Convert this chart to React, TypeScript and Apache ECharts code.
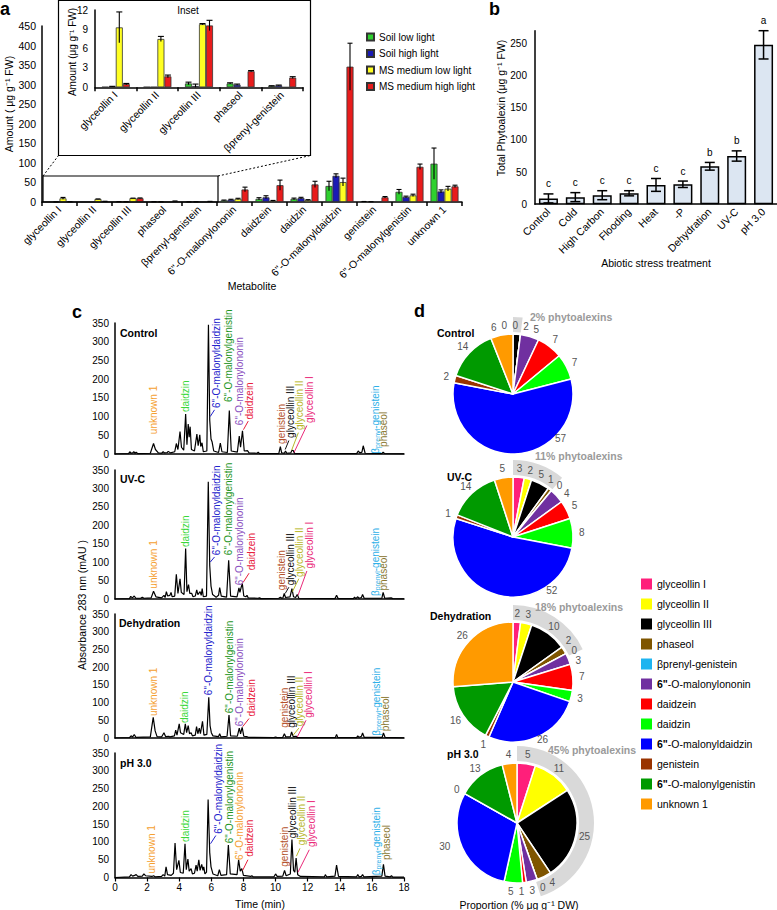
import React, { useEffect, useRef } from 'react';
import * as echarts from 'echarts';

const FONT = '"Liberation Sans", Arial, Helvetica, sans-serif';

// ---------- Panel a ----------
const metabolites = ['glyceollin I', 'glyceollin II', 'glyceollin III', 'phaseol', 'βprenyl-genistein', '6"-O-malonylononin', 'daidzein', 'daidzin', '6"-O-malonyldaidzin', 'genistein', '6"-O-malonylgenistin', 'unknown 1'];
const seriesNames = ['Soil low light', 'Soil high light', 'MS medium low light', 'MS medium high light'];
const soilLow = [0.05, 0.05, 0.6, 0.6, 0.2, 4, 8, 8, 41, 1, 26, 98];
const soilHigh = [0.1, 0.05, 0.2, 0.4, 0.3, 6, 12, 10, 67, 0.5, 13, 27];
const msLow = [9.3, 7.5, 9.8, 0, 0, 8, 3, 5, 51, 0, 17, 34];
const msHigh = [0.5, 1.7, 9.6, 2.5, 1.5, 32, 43, 45, 346, 12, 90, 40];
const soilLowErr = [0, 0, 0.2, 0.1, 0.05, 1, 3, 2, 12, 0.3, 6, 40];
const soilHighErr = [0.05, 0, 0.3, 0.1, 0.05, 1, 4, 2, 5, 0.2, 2, 4];
const msLowErr = [2.4, 0.4, 0.1, 0, 0, 1.5, 1, 1, 10, 0, 3, 6];
const msHighErr = [0.1, 0.2, 0.8, 0.1, 0.15, 6, 13, 8, 60, 2, 7, 3];
const insetCount = 5;

// ---------- Panel b ----------
const treatments = ['Control', 'Cold', 'High Carbon', 'Flooding', 'Heat', '-P', 'Dehydration', 'UV-C', 'pH 3.0'];
const totalPhyto = [9, 11, 14, 17, 30, 31, 59, 75, 248];
const totalErr = [7, 7, 7, 4, 10, 5, 6, 8, 22];
const sigLetters = ['c', 'c', 'c', 'c', 'c', 'c', 'b', 'b', 'a'];

// ---------- Panel c (time min, absorbance mAU) ----------
const chromTitles = ['Control', 'UV-C', 'Dehydration', 'pH 3.0'];
const traceControl = [[0,0],[0.85,1],[0.92,6],[1.0,2],[1.1,3],[1.17,6],[1.25,2],[1.32,5],[1.42,1],[2.2,2],[2.4,28],[2.52,12],[2.7,3],[2.9,2],[3.0,6],[3.08,3],[3.25,4],[3.32,7],[3.45,3],[3.72,6],[3.82,28],[3.92,12],[4.05,60],[4.14,18],[4.28,10],[4.4,107],[4.48,25],[4.56,80],[4.62,45],[4.68,73],[4.76,12],[4.95,8],[5.1,53],[5.18,22],[5.28,51],[5.34,20],[5.42,30],[5.5,6],[5.72,8],[5.82,345],[5.9,90],[5.98,40],[6.05,32],[6.15,8],[6.45,4],[6.56,29],[6.66,6],[7.0,4],[7.12,116],[7.24,8],[7.62,5],[7.74,48],[7.82,18],[7.94,62],[8.05,8],[8.25,9],[8.35,3],[8.85,2],[8.92,5],[9.0,1],[10.2,1],[10.3,20],[10.38,3],[10.55,2],[10.62,8],[10.7,2],[10.95,3],[11.02,10],[11.1,9],[11.2,1],[15.05,1],[15.15,8],[15.25,3],[15.38,5],[15.46,22],[15.58,2],[16.62,1],[16.7,5],[16.8,1],[18,0.5]];
const traceUVC = [[0,0],[0.9,1],[0.98,7],[1.08,3],[1.2,8],[1.3,2],[1.6,2],[1.7,5],[1.8,2],[2.25,3],[2.4,21],[2.55,6],[2.9,3],[3.05,10],[3.12,4],[3.2,20],[3.28,8],[3.42,10],[3.49,18],[3.56,6],[3.72,8],[3.82,67],[3.92,15],[4.05,55],[4.13,18],[4.3,12],[4.4,137],[4.48,20],[4.58,39],[4.66,15],[4.78,15],[4.86,6],[5.0,8],[5.09,25],[5.16,12],[5.3,20],[5.37,10],[5.43,28],[5.5,6],[5.7,8],[5.81,318],[5.9,90],[5.98,35],[6.08,12],[6.3,5],[6.45,10],[6.52,31],[6.62,8],[6.95,5],[7.08,105],[7.2,8],[7.6,6],[7.72,30],[7.78,18],[7.85,30],[7.93,42],[8.02,8],[8.15,6],[8.22,10],[8.3,3],[8.9,2],[9.0,3],[9.1,1],[10.2,2],[10.3,5],[10.38,2],[10.46,3],[10.54,15],[10.62,4],[10.9,6],[11.02,28],[11.12,6],[11.25,4],[11.35,12],[11.45,2],[13.7,1],[13.8,10],[13.9,1],[14.85,1],[14.92,5],[15.0,1],[15.12,6],[15.2,2],[15.35,4],[15.42,12],[15.52,2],[16.62,2],[16.7,18],[16.8,2],[17.2,3],[17.3,1],[18,0.5]];
const traceDehyd = [[0,0],[0.9,1],[1.0,6],[1.1,3],[1.2,10],[1.3,2],[2.2,3],[2.38,58],[2.5,20],[2.62,4],[2.9,3],[3.05,15],[3.15,4],[3.35,5],[3.42,3],[3.7,6],[3.78,22],[3.86,8],[4.0,40],[4.08,15],[4.28,10],[4.38,40],[4.46,15],[4.56,35],[4.64,12],[4.74,15],[4.82,6],[5.0,8],[5.08,32],[5.16,12],[5.25,28],[5.32,12],[5.45,47],[5.54,8],[5.72,10],[5.84,115],[5.92,35],[6.0,15],[6.1,6],[6.45,4],[6.52,12],[6.6,3],[6.98,5],[7.1,65],[7.2,6],[7.62,5],[7.74,28],[7.82,12],[7.92,30],[8.02,5],[8.2,4],[8.3,2],[9.9,1],[10.0,3],[10.1,1],[10.45,2],[10.55,12],[10.64,3],[10.92,4],[11.0,17],[11.1,4],[11.28,5],[11.36,1],[13.72,1],[13.8,10],[13.88,1],[15.05,1],[15.12,6],[15.2,2],[15.35,5],[15.42,14],[15.52,2],[16.64,2],[16.72,14],[16.82,2],[18,0.5]];
const tracePH3 = [[0,0],[0.9,2],[1.0,8],[1.1,4],[1.22,6],[1.32,8],[1.42,3],[1.7,4],[1.8,10],[1.9,5],[2.3,3],[2.4,5],[2.5,2],[2.9,3],[3.0,8],[3.1,4],[3.18,30],[3.27,8],[3.5,6],[3.64,12],[3.74,97],[3.84,22],[3.98,48],[4.07,14],[4.25,12],[4.36,95],[4.44,22],[4.54,52],[4.62,18],[4.74,25],[4.82,10],[4.95,12],[5.05,35],[5.12,18],[5.22,50],[5.3,20],[5.4,37],[5.48,20],[5.53,30],[5.6,10],[5.7,15],[5.8,219],[5.9,70],[5.98,30],[6.1,10],[6.4,5],[6.5,22],[6.6,6],[6.95,8],[7.06,91],[7.18,10],[7.6,8],[7.7,50],[7.8,18],[7.9,25],[8.0,6],[8.45,3],[8.52,5],[8.6,2],[9.9,2],[10.0,10],[10.1,3],[10.45,4],[10.56,20],[10.66,5],[10.92,10],[11.02,107],[11.12,20],[11.2,15],[11.28,55],[11.38,8],[11.55,3],[13.05,2],[13.1,8],[13.18,2],[13.7,4],[13.8,35],[13.92,3],[15.05,2],[15.12,8],[15.2,2],[15.35,3],[15.42,8],[15.5,2],[16.62,4],[16.72,37],[16.82,4],[17.15,2],[17.22,5],[17.3,1],[18,1]];
const traces = [traceControl, traceUVC, traceDehyd, tracePH3];

// ---------- Panel d (% of total) ----------
const pieTitles = ['Control', 'UV-C', 'Dehydration', 'pH 3.0'];
const pctControl = [0, 0, 2, 0, 0, 5, 7, 7, 57, 2, 14, 6];
const pctUVC = [3, 2, 5, 1, 0, 4, 5, 8, 52, 1, 14, 5];
const pctDehyd = [2, 3, 10, 2, 0, 3, 7, 3, 26, 1, 16, 26];
const pctPH3 = [5, 11, 25, 4, 0, 3, 1, 5, 30, 0, 13, 4];
const pieValues = [pctControl, pctUVC, pctDehyd, pctPH3];
const phytoPct = [2, 11, 18, 45];
// slices whose value is not printed in the reference
const pieUnlabelled = [[3, 4], [], [], []];

// ---------- styles / layout ----------
const barColors = ['#2fd02f', '#1a1ab4', '#ffff22', '#e81c1c'];
const pieColors = ['#ff1f7a', '#ffff00', '#000000', '#7f5500', '#1eb4f0', '#7030a0', '#ff0000', '#00ff00', '#0000ff', '#993300', '#009a00', '#ff9a00'];
const peakText: Record<string, string> = { unk: 'unknown 1', dzn: 'daidzin', mdz: '6"-O-malonyldaidzin', mgs: '6"-O-malonylgenistin', mon: '6"-O-malonylononin', dze: 'daidzein', gen: 'genistein', g3: 'glyceollin III', g2: 'glyceollin II', g1: 'glyceollin I', pre: 'PRENYL', pha: 'phaseol' };
const peakColor: Record<string, string> = { unk: '#f5a030', dzn: '#3ad83a', mdz: '#2222cc', mgs: '#1e961e', mon: '#8a50c0', dze: '#e8203c', gen: '#b4502a', g3: '#111111', g2: '#b8b82a', g1: '#ea2a7a', pre: '#2eb0e8', pha: '#8a7830' };
type Ann = { k: string; t: number; v: number; lead?: number[]; c?: string };
const chromAnn: Ann[][] = [
  [
    { k: 'unk', t: 2.37, v: 53 }, { k: 'dzn', t: 4.42, v: 112 },
    { k: 'mdz', t: 6.35, v: 123, lead: [5.93, 100, 6.2, 118] }, { k: 'mgs', t: 7.1, v: 139 },
    { k: 'mon', t: 7.78, v: 77 }, { k: 'dze', t: 8.4, v: 92, lead: [8.0, 65, 8.3, 88] },
    { k: 'gen', t: 10.34, v: 27 }, { k: 'g3', t: 10.9, v: 43, lead: [10.6, 12, 10.83, 36] },
    { k: 'g2', t: 11.52, v: 64, lead: [11.0, 10, 11.42, 57] }, { k: 'g1', t: 12.1, v: 83, lead: [11.15, 4, 11.95, 76] },
    { k: 'pre', t: 16.2, v: 1 }, { k: 'pha', t: 16.75, v: 19 },
  ],
  [
    { k: 'unk', t: 2.37, v: 28 }, { k: 'dzn', t: 4.42, v: 141 },
    { k: 'mdz', t: 6.35, v: 119, lead: [5.93, 100, 6.2, 114] }, { k: 'mgs', t: 7.1, v: 119 },
    { k: 'mon', t: 7.78, v: 37 }, { k: 'dze', t: 8.5, v: 78, lead: [7.98, 45, 8.35, 70] },
    { k: 'gen', t: 10.4, v: 24 }, { k: 'g3', t: 10.9, v: 37, lead: [10.6, 15, 10.83, 32] },
    { k: 'g2', t: 11.52, v: 60, lead: [11.05, 20, 11.45, 55] }, { k: 'g1', t: 12.1, v: 83, lead: [11.4, 10, 11.95, 76] },
    { k: 'pre', t: 16.2, v: 8 }, { k: 'pha', t: 16.75, v: 23 },
  ],
  [
    { k: 'unk', t: 2.37, v: 62 }, { k: 'dzn', t: 4.32, v: 42 },
    { k: 'mdz', t: 5.81, v: 121 }, { k: 'mgs', t: 7.16, v: 70 },
    { k: 'mon', t: 7.74, v: 33 }, { k: 'dze', t: 8.5, v: 61, lead: [7.95, 32, 8.35, 55] },
    { k: 'gen', t: 10.58, v: 29 }, { k: 'g3', t: 11.0, v: 29 },
    { k: 'g2', t: 11.52, v: 33, lead: [11.1, 8, 11.45, 28] }, { k: 'g1', t: 12.04, v: 57, lead: [11.35, 3, 11.9, 50] },
    { k: 'pre', t: 16.3, v: 6 }, { k: 'pha', t: 16.85, v: 19 },
  ],
  [
    { k: 'unk', t: 2.28, v: 11 }, { k: 'dzn', t: 4.36, v: 100 },
    { k: 'mdz', t: 6.43, v: 123, lead: [5.95, 95, 6.28, 118] }, { k: 'mgs', t: 7.16, v: 96 },
    { k: 'mon', t: 7.78, v: 49, c: '#f5a030' }, { k: 'dze', t: 8.4, v: 58, lead: [7.95, 20, 8.28, 50] },
    { k: 'gen', t: 10.58, v: 30 }, { k: 'g3', t: 11.06, v: 110 },
    { k: 'g2', t: 11.62, v: 91, lead: [11.3, 60, 11.52, 82] }, { k: 'g1', t: 12.25, v: 86, lead: [11.4, 15, 12.1, 78] },
    { k: 'pre', t: 16.3, v: 6 }, { k: 'pha', t: 16.9, v: 49 },
  ],
];
const chromGrids = [
  { top: 323, height: 131 }, { top: 470, height: 129 }, { top: 614, height: 124 }, { top: 753, height: 124.5 },
];
const chromTitlePos = [[120, 333], [120, 479], [119, 623], [120, 763]];
const pieCenters = [[513, 394], [513, 537], [513, 682], [517, 823]];
const pieTitlePos = [[437, 333], [447, 477], [430, 616], [447, 754]];
const phytoLabelPos = [[530, 317], [535, 456], [535, 607], [548, 750]];
// label angle (deg, clockwise from top) / radius used in the reference for the large 6"-O-malonyldaidzin slices
const pieLabelOverride: Record<number, number[]>[] = [{ 8: [133, 65] }, { 8: [144, 66] }, { 8: [153, 65] }, { 8: [252, 76] }];
const PIE_R = 60;
const LABEL_R = 69;

const BAR_W = 7;
const axisBlack = { lineStyle: { color: '#000', width: 1.5 } };

function errRender(barW: number, cap: number) {
  return (params: any, api: any) => {
    const c = api.value(0), v = api.value(1), e = api.value(2), s = api.value(3);
    const top = api.coord([c, v + e]);
    const bot = api.coord([c, Math.max(0, v - e)]);
    const x = top[0] + (s - 1.5) * barW;
    const st = { stroke: '#000', lineWidth: 1.1 };
    return {
      type: 'group',
      children: [
        { type: 'line', shape: { x1: x, y1: top[1], x2: x, y2: bot[1] }, style: st },
        { type: 'line', shape: { x1: x - cap, y1: top[1], x2: x + cap, y2: top[1] }, style: st },
      ],
    };
  };
}

// mid-angle (degrees clockwise from 12 o'clock) of every labelled slice, nudged apart when crowded
function pieLabelAngles(vals: number[], hidden: number[], override: Record<number, number[]>) {
  const total = vals.reduce((a, b) => a + b, 0);
  let cum = 0;
  const items: { i: number; a: number }[] = [];
  vals.forEach((v, i) => {
    const mid = ((cum + v / 2) / total) * 360;
    cum += v;
    if (!hidden.includes(i) && !override[i]) items.push({ i, a: mid });
  });
  const minSep = 9;
  for (let it = 0; it < 400; it++) {
    let moved = false;
    for (let j = 0; j < items.length; j++) {
      const A = items[j];
      const B = items[(j + 1) % items.length];
      let d = B.a - A.a;
      if (j === items.length - 1) d += 360;
      if (d < minSep - 1e-6) {
        const push = (minSep - d) / 2;
        A.a -= push;
        B.a += push;
        moved = true;
      }
    }
    if (!moved) break;
  }
  const map: Record<number, number[]> = {};
  items.forEach((o) => (map[o.i] = [o.a, LABEL_R]));
  Object.keys(override).forEach((k) => (map[Number(k)] = override[Number(k)]));
  return map;
}

function buildOption() {
  const groups = [soilLow, soilHigh, msLow, msHigh];
  const errs = [soilLowErr, soilHighErr, msLowErr, msHighErr];
  const errMain: number[][] = [];
  const errInset: number[][] = [];
  groups.forEach((g, s) => g.forEach((v, i) => {
    if (errs[s][i] > 0) {
      errMain.push([i, v, errs[s][i], s]);
      if (i < insetCount) errInset.push([i, v, errs[s][i], s]);
    }
  }));

  const series: any[] = [];
  groups.forEach((g, s) => {
    const base = {
      type: 'bar', name: seriesNames[s], barWidth: BAR_W, barGap: '0%', silent: true,
      itemStyle: { color: barColors[s], borderColor: '#333', borderWidth: 0.8 },
    };
    series.push({ ...base, xAxisIndex: 0, yAxisIndex: 0, data: g });
    series.push({ ...base, xAxisIndex: 1, yAxisIndex: 1, data: g.slice(0, insetCount) });
  });
  series.push({ type: 'custom', name: 'errMain', xAxisIndex: 0, yAxisIndex: 0, data: errMain, renderItem: errRender(BAR_W, 2.5), silent: true, z: 5 });
  series.push({ type: 'custom', name: 'errInset', xAxisIndex: 1, yAxisIndex: 1, data: errInset, renderItem: errRender(BAR_W, 3), silent: true, z: 5 });

  // panel b
  series.push({
    type: 'bar', name: 'Total Phytoalexin', xAxisIndex: 2, yAxisIndex: 2, data: totalPhyto, barWidth: 19, silent: true,
    itemStyle: { color: '#dce6f2', borderColor: '#000', borderWidth: 1.5 },
  });
  series.push({
    type: 'custom', name: 'errB', xAxisIndex: 2, yAxisIndex: 2, silent: true, z: 5,
    data: totalPhyto.map((v, i) => [i, v, totalErr[i]]),
    renderItem: (params: any, api: any) => {
      const i = api.value(0), v = api.value(1), e = api.value(2);
      const t = api.coord([i, v + e]);
      const b = api.coord([i, Math.max(0, v - e)]);
      const x = t[0];
      const st = { stroke: '#000', lineWidth: 1.5 };
      return {
        type: 'group',
        children: [
          { type: 'line', shape: { x1: x, y1: t[1], x2: x, y2: b[1] }, style: st },
          { type: 'line', shape: { x1: x - 5, y1: t[1], x2: x + 5, y2: t[1] }, style: st },
          { type: 'line', shape: { x1: x - 5, y1: b[1], x2: x + 5, y2: b[1] }, style: st },
          { type: 'text', x, y: t[1] - 5, style: { text: sigLetters[params.dataIndex], textAlign: 'center', textVerticalAlign: 'bottom', fill: '#000', font: `10px ${FONT}` } },
        ],
      };
    },
  });

  // panel c
  traces.forEach((tr, p) => {
    series.push({
      type: 'line', name: 'trace ' + chromTitles[p], xAxisIndex: 3 + p, yAxisIndex: 3 + p, data: tr,
      showSymbol: false, symbol: 'none', silent: true, lineStyle: { color: '#000', width: 1.2 },
    });
  });

  // panel d
  pieValues.forEach((vals, p) => {
    const angles = pieLabelAngles(vals, pieUnlabelled[p], pieLabelOverride[p]);
    const [cx, cy] = pieCenters[p];
    series.push({
      type: 'pie', name: 'ring ' + pieTitles[p], center: pieCenters[p], radius: [62, 77], startAngle: 90, silent: true, z: 1,
      data: [
        { name: 'phyto', value: phytoPct[p], itemStyle: { color: '#d9d9d9' } },
        { name: 'rest', value: 100 - phytoPct[p], itemStyle: { color: 'rgba(0,0,0,0)' } },
      ],
      label: { show: false }, labelLine: { show: false }, emphasis: { disabled: true },
    });
    series.push({
      type: 'pie', name: 'pie ' + pieTitles[p], center: pieCenters[p], radius: PIE_R, startAngle: 90, silent: true, z: 3,
      data: metabolites.map((n, i) => ({
        name: n, value: vals[i], itemStyle: { color: pieColors[i] },
        label: { show: !pieUnlabelled[p].includes(i) },
      })),
      itemStyle: { borderColor: '#fff', borderWidth: 1.5 },
      label: { show: true, position: 'outside', formatter: '{c}', fontSize: 10, color: '#555', fontFamily: FONT },
      labelLine: { show: false, length: 4, length2: 2 },
      avoidLabelOverlap: false, emphasis: { disabled: true },
      labelLayout: (prm: any) => {
        const a = angles[prm.dataIndex];
        if (a === undefined) return {};
        const rad = (a[0] * Math.PI) / 180;
        return { x: cx + a[1] * Math.sin(rad), y: cy - a[1] * Math.cos(rad), align: 'center', verticalAlign: 'middle' };
      },
    });
  });

  const chromX = chromGrids.map((_, p) => ({
    type: 'value', gridIndex: 3 + p, min: 0, max: 18, interval: 2,
    axisLine: { show: true, ...axisBlack },
    axisTick: { show: p === 3, length: 4, lineStyle: { color: '#000', width: 1.2 } },
    axisLabel: { show: p === 3, fontSize: 10, color: '#000', margin: 5 },
    splitLine: { show: false },
  }));
  const chromY = chromGrids.map((_, p) => ({
    type: 'value', gridIndex: 3 + p, min: 0, max: 350, interval: 50,
    axisLine: { show: true, ...axisBlack }, axisTick: { show: false },
    axisLabel: { fontSize: 10, color: '#000', margin: 6 }, splitLine: { show: false },
  }));

  return {
    animation: false,
    backgroundColor: '#fff',
    textStyle: { fontFamily: FONT },
    grid: [
      { left: 42, top: 26, width: 420, height: 176 },
      { left: 95, top: 10, width: 208, height: 77.3 },
      { left: 535, top: 30.7, width: 242, height: 173.5 },
      ...chromGrids.map((g) => ({ left: 115, top: g.top, width: 289, height: g.height })),
    ],
    xAxis: [
      {
        type: 'category', gridIndex: 0, data: metabolites, axisLine: axisBlack,
        axisTick: { show: true, length: 4, lineStyle: { color: '#000', width: 1.5 } },
        axisLabel: { rotate: 45, interval: 0, fontSize: 10.5, color: '#000', margin: 6 },
      },
      {
        type: 'category', gridIndex: 1, data: metabolites.slice(0, insetCount), axisLine: axisBlack,
        axisTick: { show: true, length: 4, lineStyle: { color: '#000', width: 1.5 } },
        axisLabel: { rotate: 45, interval: 0, fontSize: 10.5, color: '#000', margin: 6 },
      },
      {
        type: 'category', gridIndex: 2, data: treatments, axisLine: axisBlack, axisTick: { show: false },
        axisLabel: { rotate: 45, interval: 0, fontSize: 10.5, color: '#000', margin: 6 },
      },
      ...chromX,
    ],
    yAxis: [
      {
        type: 'value', gridIndex: 0, min: 0, max: 450, interval: 50, axisLine: { show: true, ...axisBlack },
        axisTick: { show: false }, splitLine: { show: false }, axisLabel: { fontSize: 10.5, color: '#000', margin: 6 },
      },
      {
        type: 'value', gridIndex: 1, min: 0, max: 12, interval: 3, axisLine: { show: true, ...axisBlack },
        axisTick: { show: false }, splitLine: { show: false }, axisLabel: { fontSize: 10, color: '#000', margin: 7 },
      },
      {
        type: 'value', gridIndex: 2, min: 0, max: 270, interval: 50, axisLine: { show: true, ...axisBlack },
        axisTick: { show: false }, splitLine: { show: false }, axisLabel: { fontSize: 10, color: '#000', margin: 8, showMaxLabel: false },
      },
      ...chromY,
    ],
    legend: [
      {
        data: seriesNames, left: 361, top: 26, orient: 'vertical', itemWidth: 7, itemHeight: 7, itemGap: 4.5,
        icon: 'rect', selectedMode: false,
        textStyle: { fontSize: 10, lineHeight: 12, color: '#000', fontFamily: FONT },
      },
      {
        data: metabolites, left: 636, top: 573, orient: 'vertical', itemWidth: 11, itemHeight: 11, itemGap: 8,
        icon: 'rect', selectedMode: false, itemStyle: { borderWidth: 0 },
        formatter: (name: string) => (name.startsWith('6"') ? `{b|6"}{n|${name.slice(2)}}` : `{n|${name}}`),
        textStyle: {
          fontSize: 10.5, lineHeight: 12, color: '#000', fontFamily: FONT,
          rich: { b: { fontWeight: 'bold', fontSize: 10.5, fontFamily: FONT }, n: { fontSize: 10.5, fontFamily: FONT } },
        },
      },
    ],
    series,
  };
}

function txt(x: number, y: number, text: string, opts: any = {}) {
  const { size = 10.5, weight = 'normal', color = '#000', align = 'left', valign = 'middle', rotation = 0 } = opts;
  return {
    type: 'text', x, y, rotation, z: 20,
    style: { text, fill: color, font: `${weight} ${size}px ${FONT}`, textAlign: align, textVerticalAlign: valign },
  };
}

function buildGraphics(chart: any) {
  const el: any[] = [];
  // panel letters
  el.push(txt(0, 9, 'a', { size: 18, weight: 'bold' }));
  el.push(txt(489, 9, 'b', { size: 18, weight: 'bold' }));
  el.push(txt(72, 312, 'c', { size: 18, weight: 'bold' }));
  el.push(txt(414, 311, 'd', { size: 18, weight: 'bold' }));

  // panel a decorations
  el.push({ type: 'rect', z: 20, shape: { x: 58.5, y: 0.5, width: 252, height: 155 }, style: { fill: 'none', stroke: '#000', lineWidth: 1.2 } });
  el.push({ type: 'rect', z: 20, shape: { x: 43, y: 176, width: 175, height: 26 }, style: { fill: 'none', stroke: '#000', lineWidth: 1.2 } });
  el.push({ type: 'line', z: 20, shape: { x1: 43, y1: 176, x2: 58.5, y2: 155.5 }, style: { stroke: '#000', lineWidth: 1, lineDash: [2, 2] } });
  el.push({ type: 'line', z: 20, shape: { x1: 218, y1: 176, x2: 310.5, y2: 155.5 }, style: { stroke: '#000', lineWidth: 1, lineDash: [2, 2] } });
  el.push(txt(188, 10, 'Inset', { size: 10, align: 'center' }));
  el.push(txt(9, 104, 'Amount ( μg g⁻¹ FW)', { size: 10.5, align: 'center', rotation: Math.PI / 2 }));
  el.push(txt(72.5, 52, 'Amount (μg g⁻¹ FW)', { size: 10, align: 'center', rotation: Math.PI / 2 }));
  el.push(txt(252, 286, 'Metabolite', { size: 10.5, align: 'center' }));

  // panel b titles
  el.push(txt(501, 108, 'Total Phytoalexin (μg g⁻¹ FW)', { size: 10.5, align: 'center', rotation: Math.PI / 2 }));
  el.push(txt(656, 263, 'Abiotic stress treatment', { size: 10.5, align: 'center' }));

  // panel c titles
  el.push(txt(82, 605, 'Absorbance 283 nm (mAU )', { size: 10.5, align: 'center', rotation: Math.PI / 2 }));
  el.push(txt(260, 904, 'Time (min)', { size: 10.5, align: 'center' }));
  chromTitles.forEach((t, p) => el.push(txt(chromTitlePos[p][0], chromTitlePos[p][1], t, { size: 10.5, weight: 'bold' })));

  chromAnn.forEach((list, p) => {
    list.forEach((a) => {
      const col = a.c || peakColor[a.k];
      const pt = chart.convertToPixel({ gridIndex: 3 + p }, [a.t, a.v]);
      if (a.k === 'pre') {
        el.push({
          type: 'text', x: pt[0], y: pt[1], rotation: Math.PI / 2, z: 20,
          style: {
            text: '{n|β}{s|prenyl}{n|-genistein}', fill: col, textAlign: 'left', textVerticalAlign: 'middle',
            font: `10px ${FONT}`,
            rich: {
              n: { fontSize: 10, fontFamily: FONT, fill: col },
              s: { fontSize: 7, fontFamily: FONT, fill: col, verticalAlign: 'bottom', padding: [4, 0, 0, 0] },
            },
          },
        });
      } else {
        el.push(txt(pt[0], pt[1], peakText[a.k], { size: 10, color: col, rotation: Math.PI / 2 }));
      }
      if (a.lead) {
        const p1 = chart.convertToPixel({ gridIndex: 3 + p }, [a.lead[0], a.lead[1]]);
        const p2 = chart.convertToPixel({ gridIndex: 3 + p }, [a.lead[2], a.lead[3]]);
        el.push({ type: 'line', z: 20, shape: { x1: p1[0], y1: p1[1], x2: p2[0], y2: p2[1] }, style: { stroke: col, lineWidth: 1 } });
      }
    });
  });

  // panel d titles
  pieTitles.forEach((t, p) => {
    el.push(txt(pieTitlePos[p][0], pieTitlePos[p][1], t, { size: 10.5, weight: 'bold' }));
    el.push(txt(phytoLabelPos[p][0], phytoLabelPos[p][1], `${phytoPct[p]}% phytoalexins`, { size: 10.5, weight: 'bold', color: '#9a9a9a' }));
  });
  el.push(txt(519, 905, 'Proportion (% μg g⁻¹ DW)', { size: 10.5, align: 'center' }));
  return el;
}

export default function App() {
  const ref = useRef<HTMLDivElement>(null);
  useEffect(() => {
    const chart = echarts.init(ref.current as HTMLDivElement, null, { renderer: 'svg' });
    chart.setOption(buildOption() as any);
    chart.setOption({ graphic: { elements: buildGraphics(chart) } } as any);
    return () => chart.dispose();
  }, []);
  return <div ref={ref} style={{ position: 'absolute', left: 0, top: 0, width: 777, height: 910, background: '#fff' }} />;
}
